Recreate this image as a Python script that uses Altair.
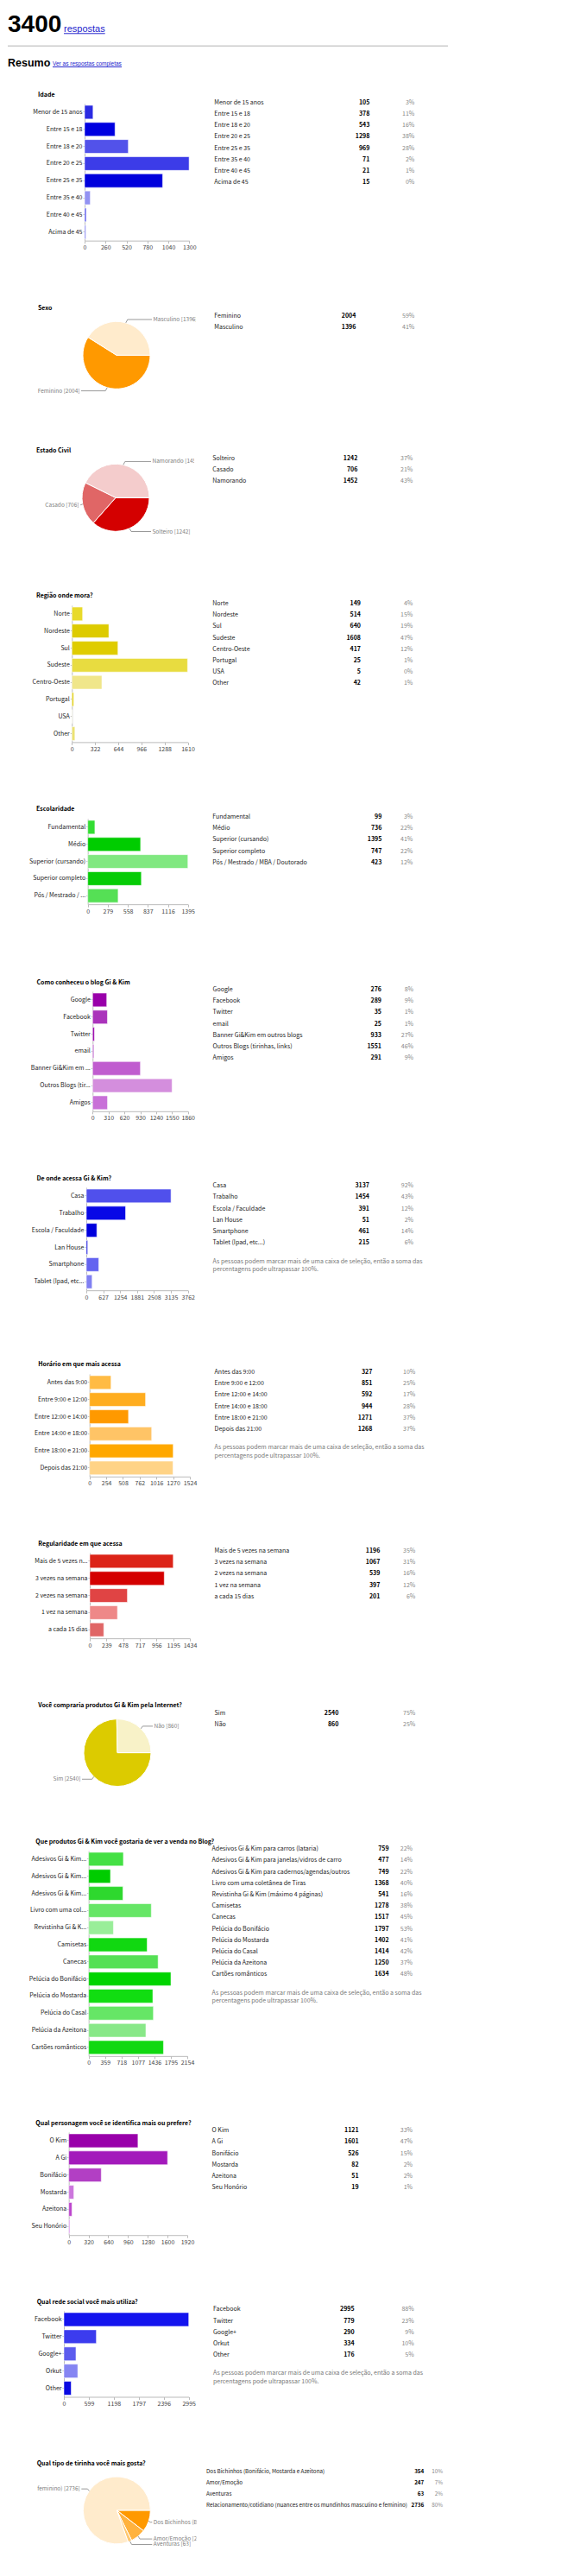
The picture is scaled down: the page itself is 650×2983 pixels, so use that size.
import json
import math

import altair as alt
import pandas as pd

FONT = "Noto Sans CJK SC, Liberation Sans, sans-serif"
FONT_HDR = "Liberation Sans, Arial, sans-serif"
LINK = "#2222cc"
FS = 7          # small text size
FS_PIE = 6.5    # pie label size

# ------------------------------------------------------------------ data
TOTAL_RESPONSES = 3400
NOTE_LINES = [
    "As pessoas podem marcar mais de uma caixa de seleção, então a soma das",
    "percentagens pode ultrapassar 100%.",
]

idade_labels = ["Menor de 15 anos", "Entre 15 e 18", "Entre 18 e 20", "Entre 20 e 25",
                "Entre 25 e 35", "Entre 35 e 40", "Entre 40 e 45", "Acima de 45"]
idade_counts = [105, 378, 543, 1298, 969, 71, 21, 15]
idade_pcts = ["3%", "11%", "16%", "38%", "28%", "2%", "1%", "0%"]
idade_ticks = [0, 260, 520, 780, 1040, 1300]

sexo_labels = ["Feminino", "Masculino"]
sexo_counts = [2004, 1396]
sexo_pcts = ["59%", "41%"]

civil_labels = ["Solteiro", "Casado", "Namorando"]
civil_counts = [1242, 706, 1452]
civil_pcts = ["37%", "21%", "43%"]

regiao_labels = ["Norte", "Nordeste", "Sul", "Sudeste", "Centro-Oeste", "Portugal", "USA", "Other"]
regiao_counts = [149, 514, 640, 1608, 417, 25, 5, 42]
regiao_pcts = ["4%", "15%", "19%", "47%", "12%", "1%", "0%", "1%"]
regiao_ticks = [0, 322, 644, 966, 1288, 1610]

escol_labels = ["Fundamental", "Médio", "Superior (cursando)", "Superior completo",
                "Pós / Mestrado / MBA / Doutorado"]
escol_axis = ["Fundamental", "Médio", "Superior (cursando)", "Superior completo", "Pós / Mestrado / ..."]
escol_counts = [99, 736, 1395, 747, 423]
escol_pcts = ["3%", "22%", "41%", "22%", "12%"]
escol_ticks = [0, 279, 558, 837, 1116, 1395]

como_labels = ["Google", "Facebook", "Twitter", "email", "Banner Gi&Kim em outros blogs",
               "Outros Blogs (tirinhas, links)", "Amigos"]
como_axis = ["Google", "Facebook", "Twitter", "email", "Banner Gi&Kim em ...", "Outros Blogs (tir...", "Amigos"]
como_counts = [276, 289, 35, 25, 933, 1551, 291]
como_pcts = ["8%", "9%", "1%", "1%", "27%", "46%", "9%"]
como_ticks = [0, 310, 620, 930, 1240, 1550, 1860]

onde_labels = ["Casa", "Trabalho", "Escola / Faculdade", "Lan House", "Smartphone", "Tablet (Ipad, etc...)"]
onde_axis = ["Casa", "Trabalho", "Escola / Faculdade", "Lan House", "Smartphone", "Tablet (Ipad, etc..."]
onde_counts = [3137, 1454, 391, 51, 461, 215]
onde_pcts = ["92%", "43%", "12%", "2%", "14%", "6%"]
onde_ticks = [0, 627, 1254, 1881, 2508, 3135, 3762]

hora_labels = ["Antes das 9:00", "Entre 9:00 e 12:00", "Entre 12:00 e 14:00", "Entre 14:00 e 18:00",
               "Entre 18:00 e 21:00", "Depois das 21:00"]
hora_counts = [327, 851, 592, 944, 1271, 1268]
hora_pcts = ["10%", "25%", "17%", "28%", "37%", "37%"]
hora_ticks = [0, 254, 508, 762, 1016, 1270, 1524]

reg_labels = ["Mais de 5 vezes na semana", "3 vezes na semana", "2 vezes na semana",
              "1 vez na semana", "a cada 15 dias"]
reg_axis = ["Mais de 5 vezes n...", "3 vezes na semana", "2 vezes na semana", "1 vez na semana", "a cada 15 dias"]
reg_counts = [1196, 1067, 539, 397, 201]
reg_pcts = ["35%", "31%", "16%", "12%", "6%"]
reg_ticks = [0, 239, 478, 717, 956, 1195, 1434]

compra_labels = ["Sim", "Não"]
compra_counts = [2540, 860]
compra_pcts = ["75%", "25%"]

prod_labels = ["Adesivos Gi & Kim para carros (lataria)", "Adesivos Gi & Kim para janelas/vidros de carro",
               "Adesivos Gi & Kim para cadernos/agendas/outros", "Livro com uma coletânea de Tiras",
               "Revistinha Gi & Kim (máximo 4 páginas)", "Camisetas", "Canecas", "Pelúcia do Bonifácio",
               "Pelúcia do Mostarda", "Pelúcia do Casal", "Pelúcia da Azeitona", "Cartões românticos"]
prod_axis = ["Adesivos Gi & Kim...", "Adesivos Gi & Kim...", "Adesivos Gi & Kim...", "Livro com uma col...",
             "Revistinha Gi & K...", "Camisetas", "Canecas", "Pelúcia do Bonifácio", "Pelúcia do Mostarda",
             "Pelúcia do Casal", "Pelúcia da Azeitona", "Cartões românticos"]
prod_counts = [759, 477, 749, 1368, 541, 1278, 1517, 1797, 1402, 1414, 1250, 1634]
prod_pcts = ["22%", "14%", "22%", "40%", "16%", "38%", "45%", "53%", "41%", "42%", "37%", "48%"]
prod_ticks = [0, 359, 718, 1077, 1436, 1795, 2154]

pers_labels = ["O Kim", "A Gi", "Bonifácio", "Mostarda", "Azeitona", "Seu Honório"]
pers_counts = [1121, 1601, 526, 82, 51, 19]
pers_pcts = ["33%", "47%", "15%", "2%", "2%", "1%"]
pers_ticks = [0, 320, 640, 960, 1280, 1600, 1920]

rede_labels = ["Facebook", "Twitter", "Google+", "Orkut", "Other"]
rede_counts = [2995, 779, 290, 334, 176]
rede_pcts = ["88%", "23%", "9%", "10%", "5%"]
rede_ticks = [0, 599, 1198, 1797, 2396, 2995]

tira_labels = ["Dos Bichinhos (Bonifácio, Mostarda e Azeitona)", "Amor/Emoção", "Aventuras",
               "Relacionamento/cotidiano (nuances entre os mundinhos masculino e feminino)"]
tira_counts = [354, 247, 63, 2736]
tira_pcts = ["10%", "7%", "2%", "80%"]

# ------------------------------------------------------------------ colours (style)
idade_colors = ["#2b2be2", "#0000e0", "#5252ea", "#3c3ce8", "#0000dc", "#9292f2", "#5a5aee", "#7d7df0"]
sexo_colors = ["#ff9900", "#ffebcc"]
civil_colors = ["#d40000", "#e06666", "#f4cccc"]
regiao_colors = ["#e8da2a", "#ddcb00", "#dfcc00", "#e8dc40", "#f0e68a", "#e5d31a", "#f4eeaa", "#ece272"]
escol_colors = ["#33dd33", "#00cc00", "#80e880", "#06cc06", "#55e055"]
como_colors = ["#9900aa", "#aa33bb", "#9a00ac", "#bb55cc", "#c05ccf", "#d48edd", "#c870d8"]
onde_colors = ["#5050ec", "#0808e6", "#0000dd", "#1515e0", "#6464f0", "#8080f2"]
hora_colors = ["#ffbb44", "#ffad1f", "#ff9900", "#ffc466", "#ffa800", "#ffd386"]
reg_colors = ["#dc2418", "#d40000", "#e04444", "#ee8888", "#e06666"]
compra_colors = ["#dccb00", "#f8f2c8"]
prod_colors = ["#44e044", "#00cc00", "#2ed82e", "#66e666", "#99ee99", "#11d811", "#55e055", "#00d400",
               "#11dd11", "#66e666", "#88e888", "#11d811"]
pers_colors = ["#9900aa", "#a31abb", "#b23fc4", "#cc77dd", "#bb44cc", "#dd99ee"]
rede_colors = ["#1414ee", "#3c3cee", "#5c5cee", "#8585f2", "#0a0ae2"]
tira_colors = ["#ff9900", "#ffb23e", "#ffc870", "#ffebcc"]

# ------------------------------------------------------------------ layout (page px)
STEP_T = 13.2
PIE_R = 39
LAB_R = 43
LEAD_X = 41
X1 = 42.0      # left edge of the chart column
X3 = 237.7     # left edge of the table column

SECTIONS = [
    dict(kind="bar", title="Idade", labels=idade_labels, axis=idade_labels, counts=idade_counts,
         pcts=idade_pcts, colors=idade_colors, ticks=idade_ticks,
         tpos=(43, 109), axis_x=97, xmax_px=218.3, first=129.2, step=19.83,
         table=(247, 118, 427, 479), note=False),
    dict(kind="pie", title="Sexo", labels=sexo_labels, counts=sexo_counts, pcts=sexo_pcts,
         colors=sexo_colors, tpos=(43, 355), cx=134, cy=410, table=(247, 364.3, 411, 479), note=False),
    dict(kind="pie", title="Estado Civil", labels=civil_labels, counts=civil_counts, pcts=civil_pcts,
         colors=civil_colors, tpos=(41, 520), cx=133, cy=575, table=(245, 529.3, 413, 477), note=False),
    dict(kind="bar", title="Região onde mora?", labels=regiao_labels, axis=regiao_labels, counts=regiao_counts,
         pcts=regiao_pcts, colors=regiao_colors, ticks=regiao_ticks,
         tpos=(41, 687.3), axis_x=82.3, xmax_px=216.5, first=708.7, step=19.8,
         table=(245, 696.7, 416.7, 477), note=False),
    dict(kind="bar", title="Escolaridade", labels=escol_labels, axis=escol_axis, counts=escol_counts,
         pcts=escol_pcts, colors=escol_colors, ticks=escol_ticks,
         tpos=(41, 933.7), axis_x=100.7, xmax_px=216.7, first=955, step=19.83,
         table=(245, 943, 441, 477), note=False),
    dict(kind="bar", title="Como conheceu o blog Gi & Kim", labels=como_labels, axis=como_axis,
         counts=como_counts, pcts=como_pcts, colors=como_colors, ticks=como_ticks,
         tpos=(41.5, 1133.3), axis_x=106.3, xmax_px=216.7, first=1154.3, step=19.83,
         table=(245.3, 1142.3, 440.7, 477.7), note=False),
    dict(kind="bar", title="De onde acessa Gi & Kim?", labels=onde_labels, axis=onde_axis, counts=onde_counts,
         pcts=onde_pcts, colors=onde_colors, ticks=onde_ticks,
         tpos=(41.5, 1360), axis_x=99, xmax_px=216.7, first=1380.7, step=19.86,
         table=(245.3, 1369, 426.7, 477.7), note=True),
    dict(kind="bar", title="Horário em que mais acessa", labels=hora_labels, axis=hora_labels,
         counts=hora_counts, pcts=hora_pcts, colors=hora_colors, ticks=hora_ticks,
         tpos=(43.3, 1575), axis_x=102.7, xmax_px=219, first=1596.3, step=19.8,
         table=(247.3, 1584.3, 430, 480), note=True),
    dict(kind="bar", title="Regularidade em que acessa", labels=reg_labels, axis=reg_axis, counts=reg_counts,
         pcts=reg_pcts, colors=reg_colors, ticks=reg_ticks,
         tpos=(43.3, 1782), axis_x=103, xmax_px=219, first=1803, step=19.83,
         table=(247.3, 1791, 439, 480), note=False),
    dict(kind="pie", title="Você compraria produtos Gi & Kim pela Internet?", labels=compra_labels,
         counts=compra_counts, pcts=compra_pcts, colors=compra_colors, tpos=(43.3, 1969), cx=135, cy=2024,
         table=(247.3, 1978, 391, 480), note=False),
    dict(kind="bar", title="Que produtos Gi & Kim você gostaria de ver a venda no Blog?", labels=prod_labels,
         axis=prod_axis, counts=prod_counts, pcts=prod_pcts, colors=prod_colors, ticks=prod_ticks,
         tpos=(40.3, 2126), axis_x=101.7, xmax_px=216, first=2147, step=19.82,
         table=(244.3, 2135.3, 449.3, 476.7), note=True),
    dict(kind="bar", title="Qual personagem você se identifica mais ou prefere?", labels=pers_labels,
         axis=pers_labels, counts=pers_counts, pcts=pers_pcts, colors=pers_colors, ticks=pers_ticks,
         tpos=(40.3, 2451.7), axis_x=78.7, xmax_px=216, first=2472.7, step=19.87,
         table=(244.3, 2461, 414.3, 476.7), note=False),
    dict(kind="bar", title="Qual rede social você mais utiliza?", labels=rede_labels, axis=rede_labels,
         counts=rede_counts, pcts=rede_pcts, colors=rede_colors, ticks=rede_ticks,
         tpos=(41.7, 2658.3), axis_x=73, xmax_px=217.7, first=2679.3, step=19.9,
         table=(245.7, 2667.7, 409.3, 478.3), note=True),
    dict(kind="pie", title="Qual tipo de tirinha você mais gosta?", labels=tira_labels, counts=tira_counts,
         pcts=tira_pcts, colors=tira_colors, tpos=(41.7, 2845.3), cx=134.3, cy=2900,
         table=(237.7, 2854.7, 490, 511.7), note=False, table_fs=6.3),
]


def row_top(s):
    if s["kind"] == "bar":
        return s["first"] - s["step"] / 2
    return s["table"][1] - STEP_T / 2


def left_width(s):
    if s["kind"] == "bar":
        return s["xmax_px"] - X1
    return 2 * (s["cx"] - X1)


def spacer(w, h):
    return alt.Chart(alt.Data(values=[{"s": 0}])).mark_rect(opacity=0).encode(
        x=alt.value(0), x2=alt.value(w), y=alt.value(0), y2=alt.value(h)
    ).properties(width=w, height=h)


def text_layer(text, x, y, size=FS, bold=False, color="#111111", align="left", font=None):
    kw = dict(align=align, baseline="alphabetic", fontSize=size, color=color)
    if bold:
        kw["fontWeight"] = "bold"
    if font:
        kw["font"] = font
    return alt.Chart(alt.Data(values=[{"t": text}])).mark_text(**kw).encode(
        text="t:N", x=alt.value(x), y=alt.value(y))


def rule_layer(x1, x2, y, color, width=1.0):
    return alt.Chart(alt.Data(values=[{"s": 0}])).mark_rule(color=color, strokeWidth=width).encode(
        x=alt.value(x1), x2=alt.value(x2), y=alt.value(y))


def bar_view(s, R):
    n = len(s["counts"])
    H = n * s["step"]
    W = s["xmax_px"] - X1
    x0 = s["axis_x"] - X1
    df = pd.DataFrame({"idx": list(range(n)), "value": s["counts"], "color": s["colors"]})
    expr = json.dumps(s["axis"], ensure_ascii=False) + "[datum.value]"
    bars = alt.Chart(df).mark_bar(stroke="#ffffff", strokeOpacity=0.55, strokeWidth=1).encode(
        x=alt.X("value:Q",
                scale=alt.Scale(domain=[0, s["ticks"][-1]], range=[x0, W], nice=False, zero=True),
                axis=alt.Axis(values=s["ticks"], format="d", title=None, grid=False,
                              labelFontSize=FS, labelColor="#444444", labelFlush=False,
                              labelOverlap=False, labelPadding=1, tickSize=3,
                              tickColor="#bbbbbb", domainColor="#bbbbbb")),
        y=alt.Y("idx:O",
                scale=alt.Scale(paddingInner=0.2, paddingOuter=0.1),
                axis=alt.Axis(labelExpr=expr, title=None, labelFontSize=FS, labelColor="#222222",
                              labelPadding=1, tickSize=2, tickColor="#bbbbbb",
                              domainColor="#bbbbbb", labelLimit=300, offset=-x0)),
        color=alt.Color("color:N", scale=None),
    )
    tx, ty = s["tpos"]
    title = text_layer(s["title"], tx - X1, ty + 2.6 - R, bold=True, color="#000000")
    return alt.layer(bars, title).properties(width=W, height=H)


def pie_view(s, R):
    W = 2 * (s["cx"] - X1)
    H = 2 * (s["cy"] - R)
    n = len(s["counts"])
    df = pd.DataFrame({
        "idx": list(range(n)),
        "value": s["counts"],
        "color": s["colors"],
        "lab": [f"{l} [{c}]" for l, c in zip(s["labels"], s["counts"])],
    })
    base = alt.Chart(df)
    arcs = base.mark_arc(radius=PIE_R, stroke="#ffffff", strokeWidth=1).encode(
        theta=alt.Theta("value:Q", stack=True,
                        scale=alt.Scale(range=[math.pi / 2, math.pi / 2 + 2 * math.pi])),
        color=alt.Color("color:N", scale=None),
        order=alt.Order("idx:Q", sort="ascending"),
    )
    geo = (base
           .transform_joinaggregate(total="sum(value)")
           .transform_window(cum="sum(value)", sort=[alt.SortField("idx", order="ascending")],
                             frame=[None, 0])
           .transform_calculate(mid="PI/2 + 2*PI*(datum.cum - datum.value/2)/datum.total")
           .transform_calculate(side="sin(datum.mid) >= 0 ? 1 : -1")
           .transform_calculate(ex=f"{W / 2} + {PIE_R}*sin(datum.mid)")
           .transform_calculate(ey=f"{H / 2} - {PIE_R}*cos(datum.mid)")
           .transform_calculate(ly=f"{H / 2} - {LAB_R}*cos(datum.mid)")
           .transform_calculate(kx="datum.ex + datum.side*2")
           .transform_calculate(lx=f"{W / 2} + datum.side*{LEAD_X}")
           .transform_calculate(tx=f"{W / 2} + datum.side*{LEAD_X + 1.5}"))
    seg1 = geo.mark_rule(color="#999999", strokeWidth=1).encode(
        x=alt.X("ex:Q", scale=None, axis=None), y=alt.Y("ey:Q", scale=None, axis=None),
        x2="kx:Q", y2="ly:Q")
    seg2 = geo.mark_rule(color="#999999", strokeWidth=1).encode(
        x=alt.X("kx:Q", scale=None, axis=None), y=alt.Y("ly:Q", scale=None, axis=None),
        x2="lx:Q", y2="ly:Q")
    tr = geo.transform_filter("datum.side > 0").mark_text(
        align="left", baseline="middle", fontSize=FS_PIE, color="#808080", clip=True).encode(
        x=alt.X("tx:Q", scale=None, axis=None), y=alt.Y("ly:Q", scale=None, axis=None), text="lab:N")
    tl = geo.transform_filter("datum.side < 0").mark_text(
        align="right", baseline="middle", fontSize=FS_PIE, color="#808080", clip=True).encode(
        x=alt.X("tx:Q", scale=None, axis=None), y=alt.Y("ly:Q", scale=None, axis=None), text="lab:N")
    tx, ty = s["tpos"]
    title = text_layer(s["title"], tx - X1, ty + 2.6 - R, bold=True, color="#000000")
    return alt.layer(arcs, seg1, seg2, tr, tl, title).properties(width=W, height=H)


def table_view(s, R):
    n = len(s["counts"])
    fs = s.get("table_fs", FS)
    tx, first, cr, pr = s["table"]
    W = pr - X3
    H = 60.0
    off = first - R
    a = -off / STEP_T
    b = a + H / STEP_T
    df = pd.DataFrame({"row": list(range(n)), "label": s["labels"], "value": s["counts"], "pct": s["pcts"]})
    y = alt.Y("row:Q", scale=alt.Scale(domain=[a, b], reverse=True, nice=False, zero=False), axis=None)
    base = alt.Chart(df)
    lab = base.mark_text(align="left", baseline="middle", fontSize=fs, color="#222222").encode(
        x=alt.value(tx - X3), y=y, text="label:N")
    cnt = base.mark_text(align="right", baseline="middle", fontSize=fs, fontWeight="bold",
                         color="#000000").encode(
        x=alt.value(cr - X3), y=y, text=alt.Text("value:Q", format="d"))
    pct = base.mark_text(align="right", baseline="middle", fontSize=fs, color="#888888").encode(
        x=alt.value(pr - X3), y=y, text="pct:N")
    layers = [lab, cnt, pct]
    if s["note"]:
        ny = off + (n - 1) * STEP_T + 21.3
        for i, line in enumerate(NOTE_LINES):
            layers.append(
                alt.Chart(alt.Data(values=[{"t": line}])).mark_text(
                    align="left", baseline="middle", fontSize=fs, color="#777777").encode(
                    text="t:N", x=alt.value(tx - X3), y=alt.value(ny + i * 9.5)))
    return alt.layer(*layers).properties(width=W, height=H)


def header_view(height):
    layers = [
        text_layer(str(TOTAL_RESPONSES), 0, 28.7, size=28, bold=True, color="#000000", font=FONT_HDR),
        text_layer("respostas", 65, 29.2, size=11, color=LINK, font=FONT_HDR),
        rule_layer(65, 112.7, 30.8, LINK),
        rule_layer(0, 510, 45.3, "#cccccc", 1.5),
        text_layer("Resumo", 0, 68.7, size=12.5, bold=True, color="#000000", font=FONT_HDR),
        text_layer("Ver as respostas completas", 52, 68.0, size=6.5, color=LINK, font=FONT_HDR),
        rule_layer(52, 132, 69.4, LINK),
    ]
    # narrow view: with flush bounds only its width/height take part in the grid layout
    return alt.layer(*layers).properties(width=1, height=height)


tops = [row_top(s) for s in SECTIONS]
max_left = max(left_width(s) for s in SECTIONS)
gap_w = X3 - (X1 + max_left)

items = [header_view(tops[0] - 8), spacer(1, 1), spacer(1, 1), spacer(1, 1)]
for k, s in enumerate(SECTIONS):
    R = tops[k]
    slot = (tops[k + 1] - R) if k + 1 < len(SECTIONS) else 112
    view = bar_view(s, R) if s["kind"] == "bar" else pie_view(s, R)
    items += [spacer(X1 - 8, slot), view, spacer(gap_w, 1), table_view(s, R)]

chart = alt.concat(
    *items, columns=4, spacing=0, bounds="flush",
).properties(
    padding=0, background="#ffffff"
).configure(
    font=FONT
).configure_view(
    strokeWidth=0
)

chart.save("out.html", embed_options={"renderer": "svg", "actions": False})
